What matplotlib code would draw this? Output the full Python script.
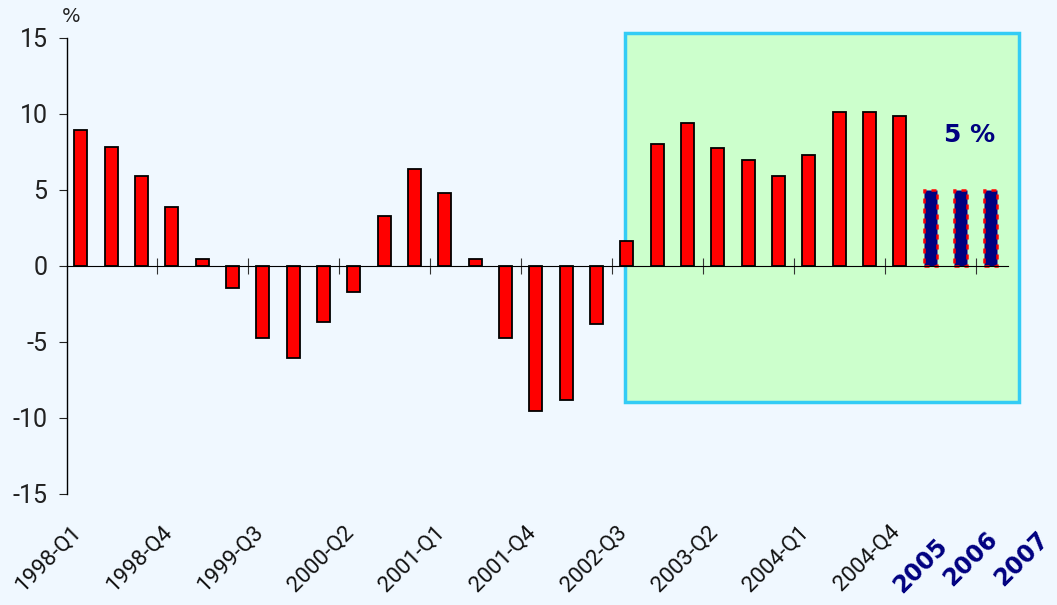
import matplotlib
matplotlib.use("Agg")
import matplotlib.pyplot as plt
from matplotlib.patches import Rectangle

plt.rcParams['font.family'] = ['Roboto', 'DejaVu Sans']

# quarterly growth, %
hist = [8.95, 7.85, 5.9, 3.9, 0.45, -1.45, -4.75, -6.05, -3.7, -1.7,
        3.3, 6.4, 4.8, 0.45, -4.75, -9.55, -8.8, -3.8, 1.65, 8.0,
        9.4, 7.75, 6.95, 5.9, 7.3, 10.15, 10.15, 9.9]
forecast = [5, 5, 5]
qlabels = ['1998-Q1', '1998-Q4', '1999-Q3', '2000-Q2', '2001-Q1',
           '2001-Q4', '2002-Q3', '2003-Q2', '2004-Q1', '2004-Q4']
ylabels = ['2005', '2006', '2007']

bg = '#f0f8ff'
navy = '#000080'

fig = plt.figure(figsize=(10.57, 6.05), dpi=100, facecolor=bg)
ax = fig.add_axes([0.0634, 0.1835, 0.8902, 0.7537], facecolor=bg)

n = len(hist)
xh = list(range(n))
xf = list(range(n, n + len(forecast)))

# shaded forecast region
ax.add_patch(Rectangle((17.95, -8.95), 30.93 - 17.95, 15.33 + 8.95,
                       facecolor='#ccffcc', edgecolor='#33ccf5', linewidth=2.5,
                       clip_on=False, zorder=0))

ax.bar(xh, hist, width=0.43, color='#ff0000', edgecolor='black', linewidth=1.3, zorder=3)
ax.bar(xf, forecast, width=0.43, color=navy, edgecolor='#ff0000', linewidth=1.8,
       linestyle=(0, (2, 2)), zorder=3)

ax.set_xlim(-0.46, 30.56)
ax.set_ylim(-15, 15)

ax.spines['top'].set_visible(False)
ax.spines['right'].set_visible(False)
ax.spines['bottom'].set_position(('data', 0))
ax.spines['bottom'].set_zorder(4)
ax.spines['left'].set_linewidth(1.0)

ax.set_yticks([-15, -10, -5, 0, 5, 10, 15])
ax.set_yticklabels(['-15', '-10', '-5', '0', '5', '10', '15'])
ax.tick_params(axis='y', direction='out', length=6, labelsize=18, colors='#222222', pad=8)
ax.set_xticks([2.5 + 3 * i for i in range(10)])
ax.set_xticklabels([])
ax.tick_params(axis='x', direction='inout', length=12, color='#333333')

for i, lab in enumerate(qlabels):
    ax.text(3 * i - 0.35, -16.8, lab, rotation=45, ha='right', va='top',
            rotation_mode='anchor', fontsize=16, color='#111111', clip_on=False)
yx = [28.15, 29.8, 31.5]
yy = [-17.6, -17.2, -17.2]
for lab, x, y in zip(ylabels, yx, yy):
    ax.text(x, y, lab, rotation=45, ha='right', va='top',
            rotation_mode='anchor', fontsize=17, fontweight='bold', color=navy,
            family=['DejaVu Sans'], clip_on=False)

ax.text(-0.33, 16.4, '%', fontsize=14, color='#222222', ha='center', va='center',
        family=['DejaVu Sans'], clip_on=False)
ax.text(29.3, 8.65, '5 %', fontsize=18, fontweight='bold', color=navy, ha='center',
        va='center', family=['DejaVu Sans'])

fig.savefig('out.png', dpi=100, facecolor=bg)
